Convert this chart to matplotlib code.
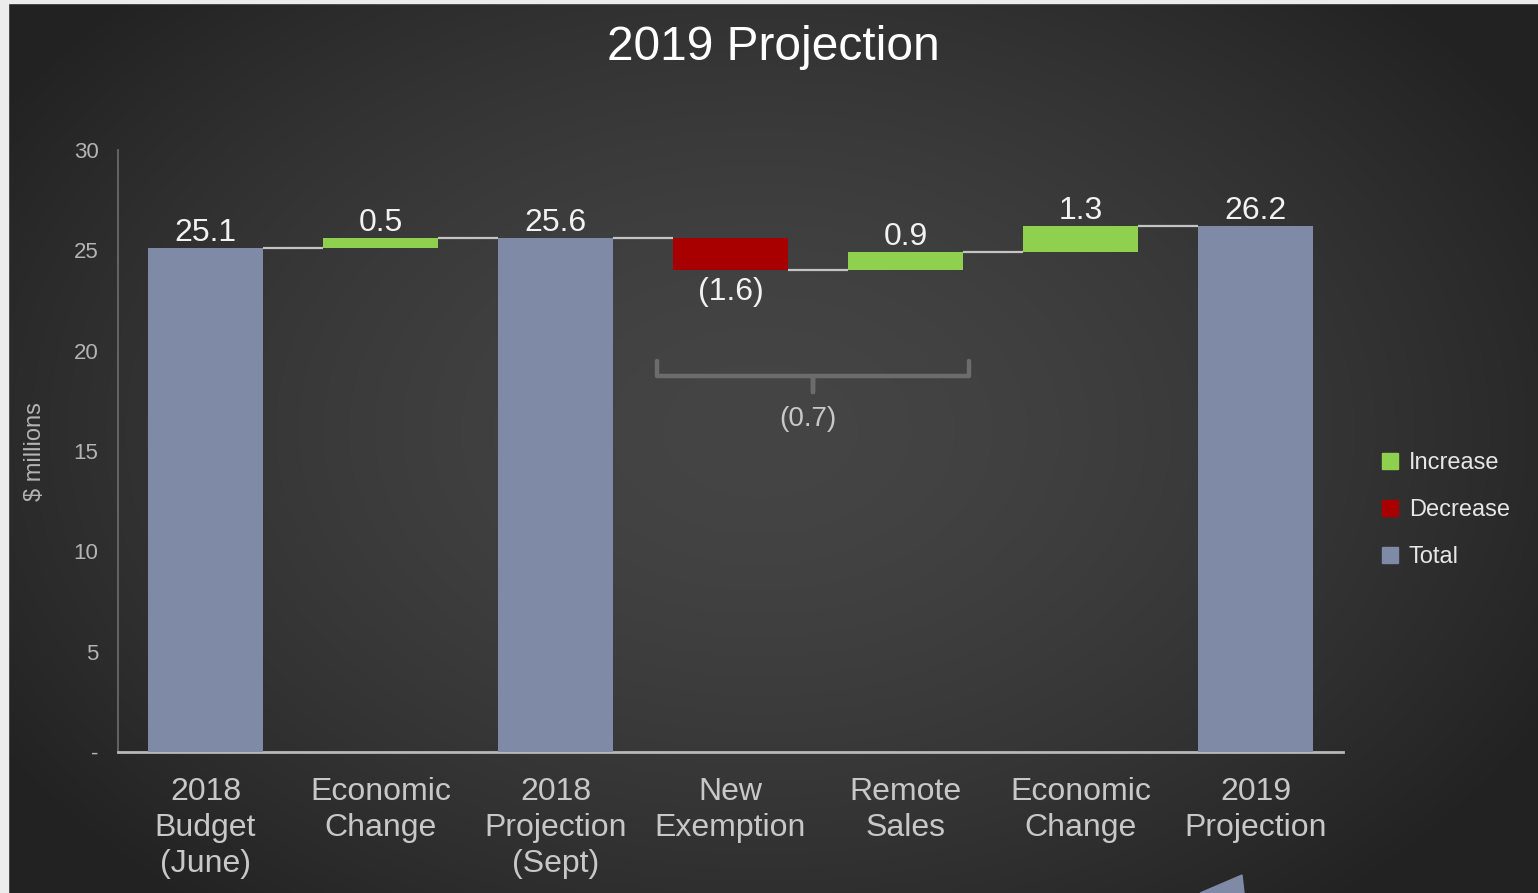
import numpy as np
import matplotlib
matplotlib.use("Agg")
import matplotlib.pyplot as plt
from matplotlib.patches import Rectangle, Polygon
from matplotlib.lines import Line2D

plt.rcParams['font.family'] = ['Liberation Sans', 'DejaVu Sans']

categories = ["2018\nBudget\n(June)", "Economic\nChange", "2018\nProjection\n(Sept)",
              "New\nExemption", "Remote\nSales", "Economic\nChange", "2019\nProjection"]
values = [25.1, 0.5, 25.6, -1.6, 0.9, 1.3, 26.2]
kinds = ["total", "change", "total", "change", "change", "change", "total"]
bracket_group = [3, 4]   # changes summed under the bracket
yticks = [0, 5, 10, 15, 20, 25, 30]
ytick_labels = ["-", "5", "10", "15", "20", "25", "30"]

GREEN = "#8fd14f"
RED = "#a80000"
TOTAL = "#7e8aa6"
W, H = 1538, 893


def fx(px):
    return px / W


def fy(py):
    return 1 - py / H


fig = plt.figure(figsize=(W / 100, H / 100), dpi=100)

# radial dark background
bg = fig.add_axes([0, 0, 1, 1], zorder=-10)
yy, xx = np.mgrid[0:H, 0:W]
r = np.sqrt(((xx - 760) / 900.0) ** 2 + ((yy - 430) / 620.0) ** 2)
shade = 0x45 - (0x45 - 0x22) * np.clip(r, 0, 1) ** 1.6
img = np.dstack([shade, shade, shade]) / 255.0
bg.imshow(img, aspect="auto", extent=[0, W, H, 0])
bg.set_axis_off()

# thin light frame at left and top edges
fig.add_artist(Rectangle((0, 0), fx(8), 1, transform=fig.transFigure, color="#ececec", zorder=5))
fig.add_artist(Rectangle((0, fy(3)), 1, fy(0) - fy(3), transform=fig.transFigure, color="#ececec", zorder=5))

ax = fig.add_axes([fx(118), fy(752), fx(1343) - fx(118), fy(150) - fy(752)])
ax.set_facecolor("none")

x = np.arange(len(values))
bw = 0.66
bottoms, heights, colors, levels = [], [], [], []
running = 0.0
for v, k in zip(values, kinds):
    if k == "total":
        bottoms.append(0)
        heights.append(v)
        colors.append(TOTAL)
        running = v
    else:
        bottoms.append(running if v > 0 else running + v)
        heights.append(abs(v))
        colors.append(GREEN if v > 0 else RED)
        running += v
    levels.append(running)

ax.bar(x, heights, bottom=bottoms, width=bw, color=colors, zorder=3)

# connectors between consecutive bars
for i in range(len(values) - 1):
    ax.plot([x[i] + bw / 2, x[i + 1] - bw / 2], [levels[i], levels[i]],
            color="#c4c4c4", lw=1.6, zorder=2, solid_capstyle="butt")

# value labels
for i, (v, b, h) in enumerate(zip(values, bottoms, heights)):
    txt = f"({abs(v):.1f})" if v < 0 else f"{v:.1f}"
    if v < 0:
        ax.annotate(txt, (x[i], b), xytext=(0, -5), textcoords="offset points",
                    ha="center", va="top", fontsize=23, color="#f2f2f2")
    else:
        ax.annotate(txt, (x[i], b + h), xytext=(0, 0), textcoords="offset points",
                    ha="center", va="bottom", fontsize=23, color="#f2f2f2")

# bracket under the grouped changes
g0, g1 = bracket_group
bx0 = x[g0] - bw / 2 - 0.09
bx1 = x[g1] + bw / 2 + 0.03
bmid = (bx0 + bx1) / 2
ax.plot([bx0, bx0, bmid, bmid, bmid, bx1, bx1],
        [19.5, 18.75, 18.75, 17.95, 18.75, 18.75, 19.5],
        color="#6c6c6c", lw=3.2, solid_joinstyle="round", solid_capstyle="round", zorder=2)
group_sum = sum(values[i] for i in bracket_group)
gtxt = f"({abs(group_sum):.1f})" if group_sum < 0 else f"{group_sum:.1f}"
ax.text(bmid - 0.03, 16.6, gtxt, ha="center", va="center", fontsize=20, color="#c8c8c8")

ax.set_xlim(-0.5, len(values) - 0.5)
ax.set_ylim(0, 30)
ax.set_yticks(yticks)
ax.set_yticklabels(ytick_labels)
ax.set_xticks(x)
ax.set_xticklabels(categories, fontsize=23, color="#c8c8c8", linespacing=1.27, va="top")
ax.tick_params(axis="x", length=0, pad=18)
ax.tick_params(axis="y", length=0, pad=14, labelsize=16, labelcolor="#b4b4b4")

for s in ["top", "right"]:
    ax.spines[s].set_visible(False)
ax.spines["left"].set_color("#6e6e6e")
ax.spines["left"].set_linewidth(1.2)
ax.spines["bottom"].set_color("#b8b8b8")
ax.spines["bottom"].set_linewidth(2)

fig.text(fx(35), fy(452), "$ millions", rotation=90, ha="center", va="center",
         fontsize=17, color="#b4b4b4")

fig.text(fx(773), fy(47), "2019 Projection", ha="center", va="center", fontsize=34.5, color="#ffffff")

# legend
handles = [Line2D([], [], marker="s", ls="none", markersize=11, color=c)
           for c in [GREEN, RED, TOTAL]]
leg = fig.legend(handles, ["Increase", "Decrease", "Total"], loc="center left",
                 bbox_to_anchor=(fx(1357), fy(510)), frameon=False, fontsize=17,
                 labelcolor="#e6e6e6", handletextpad=0.3, labelspacing=1.05,
                 handlelength=1.0)

# pointer shape at the lower edge
fig.add_artist(Polygon([(fx(1200), fy(893)), (fx(1242), fy(875)), (fx(1244), fy(893))],
                       closed=True, transform=fig.transFigure, color="#7e8aa6", zorder=5))

fig.savefig("out.png", dpi=100)
